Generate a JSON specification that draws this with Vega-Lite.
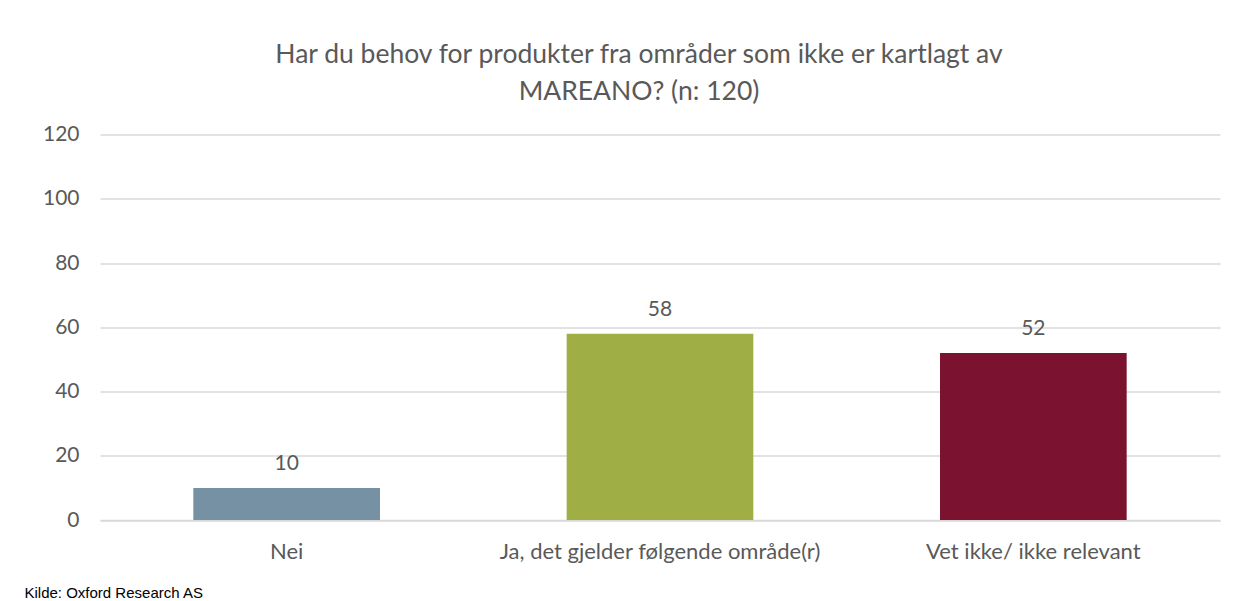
{
  "$schema": "https://vega.github.io/schema/vega-lite/v6.json",
  "width": 1120,
  "height": 385.5,
  "autosize": {"type": "none"},
  "padding": {"left": 100, "top": 134.5, "right": 24, "bottom": 81},
  "background": "white",
  "title": {
    "text": ["Har du behov for produkter fra områder som ikke er kartlagt av", "MAREANO?  (n: 120)"],
    "anchor": "middle",
    "dx": -21,
    "offset": 18,
    "font": "Lato",
    "fontSize": 26.5,
    "fontWeight": "normal",
    "color": "#595959",
    "lineHeight": 37
  },
  "data": {
    "values": [
      {"category": "Nei", "value": 10},
      {"category": "Ja, det gjelder følgende område(r)", "value": 58},
      {"category": "Vet ikke/ ikke relevant", "value": 52}
    ]
  },
  "encoding": {
    "x": {
      "field": "category",
      "type": "nominal",
      "sort": null,
      "scale": {"paddingInner": 0.5, "paddingOuter": 0.25},
      "axis": {
        "title": "Kilde: Oxford Research AS",
        "titleFont": "Liberation Sans",
        "titleFontSize": 15,
        "titleFontWeight": "normal",
        "titleColor": "#000000",
        "titleAnchor": "start",
        "titleAlign": "left",
        "titleBaseline": "alphabetic",
        "titleX": -76,
        "titleY": 77,
        "labelAngle": 0,
        "labelFont": "Lato",
        "labelFontSize": 22,
        "labelColor": "#595959",
        "labelPadding": 21,
        "ticks": false,
        "domainColor": "#D9D9D9",
        "domainWidth": 1.5,
        "labelLimit": 0
      }
    },
    "y": {
      "field": "value",
      "type": "quantitative",
      "scale": {"domain": [0, 120]},
      "axis": {
        "title": null,
        "values": [0, 20, 40, 60, 80, 100, 120],
        "labelFont": "Lato",
        "labelFontSize": 21,
        "labelColor": "#595959",
        "labelPadding": 21,
        "ticks": false,
        "domain": false,
        "gridColor": "#D9D9D9",
        "gridWidth": 1.5
      }
    }
  },
  "layer": [
    {
      "mark": {"type": "bar"},
      "encoding": {
        "color": {
          "field": "category",
          "type": "nominal",
          "legend": null,
          "scale": {
            "domain": ["Nei", "Ja, det gjelder følgende område(r)", "Vet ikke/ ikke relevant"],
            "range": ["#7591A3", "#9FAF45", "#7B1230"]
          }
        }
      }
    },
    {
      "mark": {"type": "text", "baseline": "alphabetic", "dy": -18, "font": "Lato", "fontSize": 21, "color": "#595959"},
      "encoding": {"text": {"field": "value", "type": "quantitative"}}
    }
  ],
  "config": {"view": {"stroke": null}}
}
